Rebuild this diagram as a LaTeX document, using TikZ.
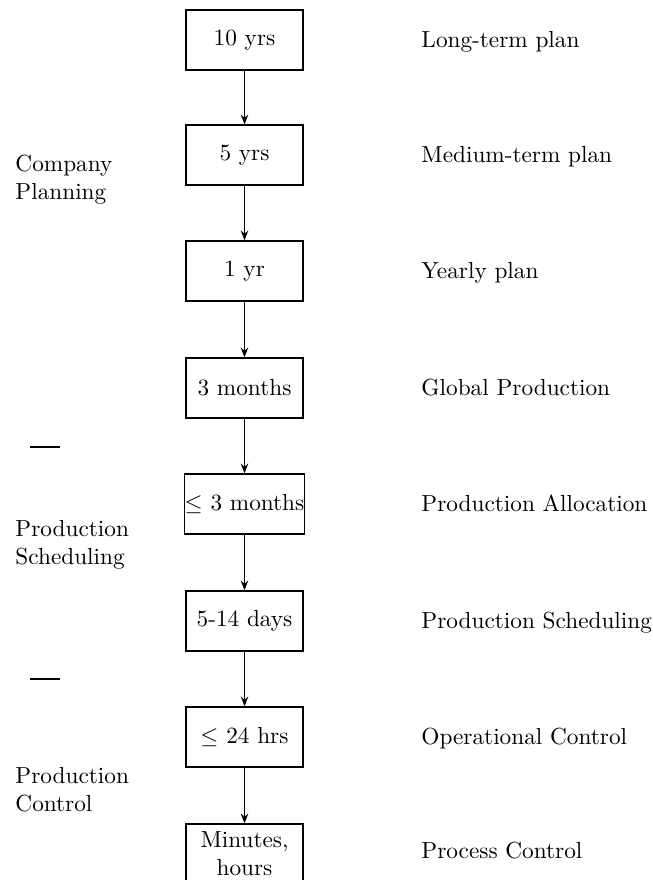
\documentclass[tikz,border=0pt]{standalone}
\usetikzlibrary{arrows.meta}
\begin{document}
\begin{tikzpicture}[x=0.43pt,y=-0.43pt,
  stage/.style={draw, line width=0.55pt, minimum width={117*0.43pt},
    minimum height={60*0.43pt}, inner sep=0pt, align=center},
  level/.style={anchor=west, inner sep=0pt, text height=1.5ex, text depth=0pt},
  group/.style={anchor=west, inner sep=0pt, align=left},
  flow/.style={-{Stealth[length=4.2pt,width=3.2pt]}, line width=0.55pt},
  rule/.style={line width=0.6pt}]
\useasboundingbox (0,0) rectangle (652,880);

% planning horizons, one box per stage
\node[stage] (s1) at (244.5,40)  {10 yrs};
\node[stage] (s2) at (244.5,155) {5 yrs};
\node[stage] (s3) at (244.5,271) {1 yr};
\node[stage] (s4) at (244.5,388) {3 months};
\node[stage] (s5) at (244.5,504) {$\leq$ 3 months};
\node[stage] (s6) at (244.5,621) {5-14 days};
\node[stage] (s7) at (244.5,737) {$\leq$ 24 hrs};
\node[stage] (s8) at (244.5,854) {Minutes,\\hours};

% chain of arrows between the stages
\foreach \a/\b in {s1/s2,s2/s3,s3/s4,s4/s5,s5/s6,s6/s7,s7/s8}
  \draw[flow] (\a.south) -- (\b.north);

% level names on the right
\node[level] (l1) at (421,40)  {Long-term plan};
\node[level] (l2) at (421,155) {Medium-term plan};
\node[level] (l3) at (421,271) {Yearly plan};
\node[level] (l4) at (421,388) {Global Production};
\node[level] (l5) at (421,504) {Production Allocation};
\node[level] (l6) at (421,621) {Production Scheduling};
\node[level] (l7) at (421,737) {Operational Control};
\node[level] (l8) at (421,851) {Process Control};

% function groups on the left
\node[group] (g1) at (15,180) {Company\\Planning};
\node[group] (g2) at (15,545) {Production\\Scheduling};
\node[group] (g3) at (15,790) {Production\\Control};

% separators between the groups
\coordinate (d1a) at (30,447);  \coordinate (d1b) at (60,447);
\coordinate (d2a) at (30,679);  \coordinate (d2b) at (60,679);
\draw[rule] (d1a) -- (d1b);
\draw[rule] (d2a) -- (d2b);
\end{tikzpicture}
\end{document}
